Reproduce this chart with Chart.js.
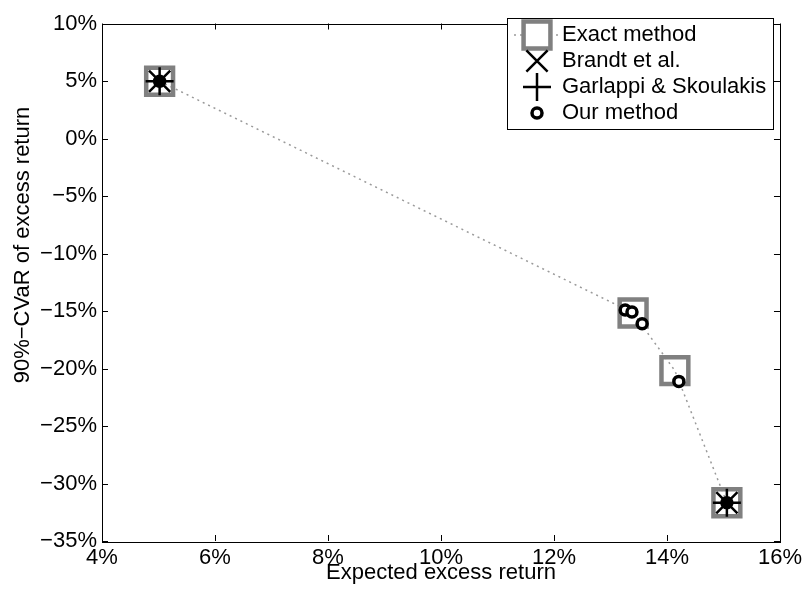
<!DOCTYPE html>
<html>
<head>
<meta charset="utf-8">
<script src="https://cdn.jsdelivr.net/npm/chart.js@4"></script>
<style>
  body { margin: 0; background: #fff; }
  #wrap { width: 806px; height: 596px; position: relative; }
</style>
</head>
<body>
<div id="wrap"><canvas id="cvarChart"></canvas></div>
<script>
// values (percent)
const exactX = [5.02, 13.40, 14.14, 15.06];
const exactY = [4.98, -15.17, -20.19, -31.67];
const brandtX = [5.02, 15.06];
const brandtY = [4.98, -31.67];
const garlappiX = [5.02, 15.06];
const garlappiY = [4.98, -31.67];
const ourX = [5.02, 13.26, 13.38, 13.56, 14.21, 15.06];
const ourY = [4.98, -14.91, -15.08, -16.10, -21.12, -31.67];

const xTicks = [4, 6, 8, 10, 12, 14, 16];
const yTicks = [-35, -30, -25, -20, -15, -10, -5, 0, 5, 10];
const seriesNames = ["Exact method", "Brandt et al.", "Garlappi & Skoulakis", "Our method"];
const xTitle = "Expected excess return";
const yTitle = "90%\u2212CVaR of excess return";

const fontFamily = '"Liberation Sans", Arial, Helvetica, sans-serif';
const gray = "#808080";

const pts = (xs, ys) => xs.map((x, i) => ({ x: x, y: ys[i] }));
const pct = (v) => (v < 0 ? "\u2212" + Math.abs(v) : String(v)) + "%";

// box + inward ticks on all four sides, like the original
const framePlugin = {
  id: "frame",
  afterDraw(chart) {
    const { ctx, chartArea: a, scales } = chart;
    const len = 6;
    ctx.save();
    ctx.strokeStyle = "#000";
    ctx.lineWidth = 1;
    ctx.beginPath();
    scales.x.ticks.forEach((t) => {
      const px = Math.round(scales.x.getPixelForValue(t.value)) + 0.5;
      ctx.moveTo(px, a.bottom); ctx.lineTo(px, a.bottom - len);
      ctx.moveTo(px, a.top); ctx.lineTo(px, a.top + len);
    });
    scales.y.ticks.forEach((t) => {
      const py = Math.round(scales.y.getPixelForValue(t.value)) + 0.5;
      ctx.moveTo(a.left, py); ctx.lineTo(a.left + len, py);
      ctx.moveTo(a.right, py); ctx.lineTo(a.right - len, py);
    });
    ctx.stroke();
    ctx.strokeRect(Math.round(a.left) + 0.5, Math.round(a.top) + 0.5, Math.round(a.right - a.left), Math.round(a.bottom - a.top));

    // y label sits a little above the axis centre in the original
    ctx.save();
    ctx.translate(23, 245);
    ctx.rotate(-Math.PI / 2);
    ctx.fillStyle = "#000";
    ctx.font = "22px " + fontFamily;
    ctx.textAlign = "center";
    ctx.textBaseline = "middle";
    ctx.fillText(yTitle, 0, 0);
    ctx.restore();
    ctx.restore();
  },
};

// matlab-style legend box in the upper right
const legendPlugin = {
  id: "boxLegend",
  afterDraw(chart) {
    const { ctx } = chart;
    const bx = 507, by = 18, bw = 266, bh = 111;
    ctx.save();
    ctx.fillStyle = "#fff";
    ctx.fillRect(bx, by, bw, bh);
    ctx.strokeStyle = "#000";
    ctx.lineWidth = 1;
    ctx.strokeRect(bx + 0.5, by + 0.5, bw, bh);

    const ix = 537, tx = 562;
    const rows = [35, 61, 87, 113];
    chart.data.datasets.forEach((ds, i) => {
      const y = rows[i];
      if (ds.showLine) {
        ctx.save();
        ctx.strokeStyle = ds.borderColor;
        ctx.lineWidth = ds.borderWidth;
        ctx.setLineDash(ds.borderDash);
        ctx.beginPath();
        ctx.moveTo(514, y); ctx.lineTo(560, y);
        ctx.stroke();
        ctx.restore();
      }
      ctx.strokeStyle = ds.pointBorderColor;
      ctx.fillStyle = "#fff";
      ctx.lineWidth = ds.pointBorderWidth;
      Chart.helpers.drawPoint(ctx, {
        pointStyle: ds.pointStyle,
        radius: ds.pointRadius,
        rotation: 0,
        borderWidth: ds.pointBorderWidth,
      }, ix, y);
      ctx.fillStyle = "#000";
      ctx.font = "22px " + fontFamily;
      ctx.textBaseline = "middle";
      ctx.textAlign = "left";
      ctx.fillText(ds.label, tx, y);
    });
    ctx.restore();
  },
};

new Chart(document.getElementById("cvarChart").getContext("2d"), {
  type: "scatter",
  data: {
    datasets: [
      {
        label: seriesNames[0],
        data: pts(exactX, exactY),
        showLine: true,
        borderColor: "#9a9a9a",
        borderWidth: 1.5,
        borderDash: [2, 4],
        pointStyle: "rect",
        pointRadius: 19,
        pointBorderWidth: 4.5,
        pointBorderColor: gray,
        pointBackgroundColor: "rgba(0,0,0,0)",
        order: 4,
      },
      {
        label: seriesNames[1],
        data: pts(brandtX, brandtY),
        pointStyle: "crossRot",
        pointRadius: 15,
        pointBorderWidth: 2.5,
        pointBorderColor: "#000",
        pointBackgroundColor: "#000",
        order: 3,
      },
      {
        label: seriesNames[2],
        data: pts(garlappiX, garlappiY),
        pointStyle: "cross",
        pointRadius: 14,
        pointBorderWidth: 2.5,
        pointBorderColor: "#000",
        pointBackgroundColor: "#000",
        order: 2,
      },
      {
        label: seriesNames[3],
        data: pts(ourX, ourY),
        pointStyle: "circle",
        pointRadius: 5,
        pointBorderWidth: 3.5,
        pointBorderColor: "#000",
        // where all markers pile up the centre reads as a solid blob
        pointBackgroundColor: (c) => (c.dataIndex === 0 || c.dataIndex === ourX.length - 1 ? "#000" : "#fff"),
        order: 1,
      },
    ],
  },
  options: {
    responsive: true,
    maintainAspectRatio: false,
    animation: false,
    layout: { padding: { top: 12, right: 26, left: 0, bottom: 0 } },
    plugins: { legend: { display: false }, tooltip: { enabled: false } },
    scales: {
      x: {
        type: "linear",
        min: xTicks[0],
        max: xTicks[xTicks.length - 1],
        afterBuildTicks: (s) => { s.ticks = xTicks.map((v) => ({ value: v })); },
        afterFit: (s) => { s.height = 55; },
        grid: { display: false, drawTicks: false },
        border: { display: false },
        ticks: { color: "#000", font: { family: fontFamily, size: 22 }, padding: 4, callback: pct, maxRotation: 0 },
        title: { display: true, text: xTitle, color: "#000", font: { family: fontFamily, size: 22 }, padding: { top: 0, bottom: 10 } },
      },
      y: {
        type: "linear",
        min: yTicks[0],
        max: yTicks[yTicks.length - 1],
        afterBuildTicks: (s) => { s.ticks = yTicks.map((v) => ({ value: v })); },
        afterFit: (s) => { s.width = 102; },
        grid: { display: false, drawTicks: false },
        border: { display: false },
        ticks: { color: "#000", font: { family: fontFamily, size: 22 }, padding: 5, callback: pct },
        title: { display: false },
      },
    },
  },
  plugins: [framePlugin, legendPlugin],
});
</script>
</body>
</html>
